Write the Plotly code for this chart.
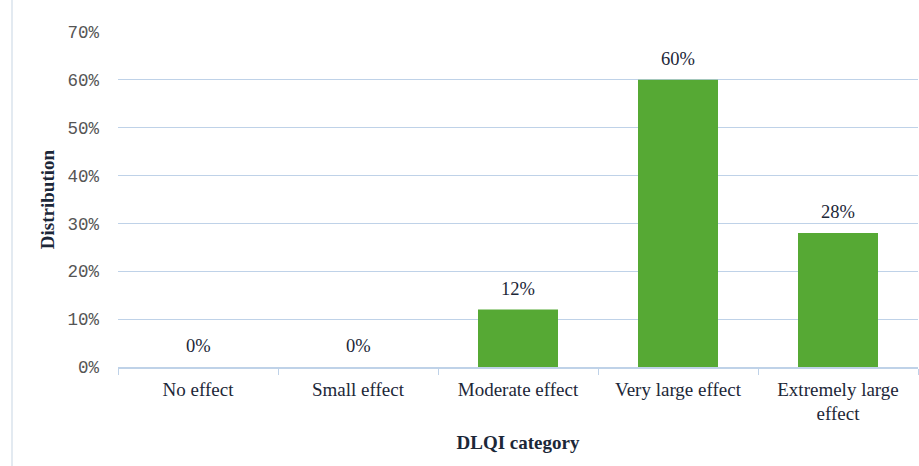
import plotly.graph_objects as go

# DLQI category distribution
categories = ["No effect", "Small effect", "Moderate effect", "Very large effect", "Extremely large<br>effect"]
distribution = [0, 0, 12, 60, 28]
y_ticks = [0, 10, 20, 30, 40, 50, 60, 70]
y_tick_labels = [f"{v}%" for v in y_ticks]

grid_col = "#bfd2e8"
text_col = "#1c2738"

fig = go.Figure(
    go.Bar(
        x=categories,
        y=distribution,
        marker=dict(color="#56a934", line=dict(width=0)),
        width=0.5,
        hoverinfo="x+y",
    )
)

# value labels sitting above each bar
for cat, val in zip(categories, distribution):
    fig.add_annotation(
        x=cat, y=val, text=f"{val}%", showarrow=False,
        yanchor="bottom", yshift=9,
        font=dict(family="Liberation Serif", size=18.5, color=text_col),
    )

fig.update_layout(
    width=919,
    height=466,
    margin=dict(l=118, r=1, t=32, b=99),
    paper_bgcolor="white",
    plot_bgcolor="white",
    showlegend=False,
    xaxis=dict(
        type="category",
        tickson="boundaries",
        ticks="outside",
        ticklen=6,
        tickcolor=grid_col,
        showline=True,
        linecolor=grid_col,
        linewidth=1.5,
        showgrid=False,
        ticklabelstandoff=4,
        tickfont=dict(family="Liberation Serif", size=19, color=text_col),
        title=dict(
            text="<b>DLQI category</b>",
            font=dict(family="Liberation Serif", size=19, color=text_col),
            standoff=12,
        ),
    ),
    yaxis=dict(
        range=[0, 70],
        tickvals=y_ticks,
        ticktext=y_tick_labels,
        showgrid=True,
        gridcolor=grid_col,
        gridwidth=1,
        zeroline=False,
        ticks="",
        ticklabelstandoff=18,
        tickfont=dict(family="Liberation Mono", size=17.5, color="#555555"),
        title=dict(
            text="<b>Distribution</b>",
            font=dict(family="Liberation Serif", size=19, color=text_col),
            standoff=7,
        ),
    ),
    shapes=[
        dict(
            type="line", xref="paper", yref="paper",
            x0=-0.1325, x1=-0.1325, y0=-0.3, y1=1.1,
            line=dict(color="#e3eaf1", width=2),
        )
    ],
)

fig.write_html("out.html")
